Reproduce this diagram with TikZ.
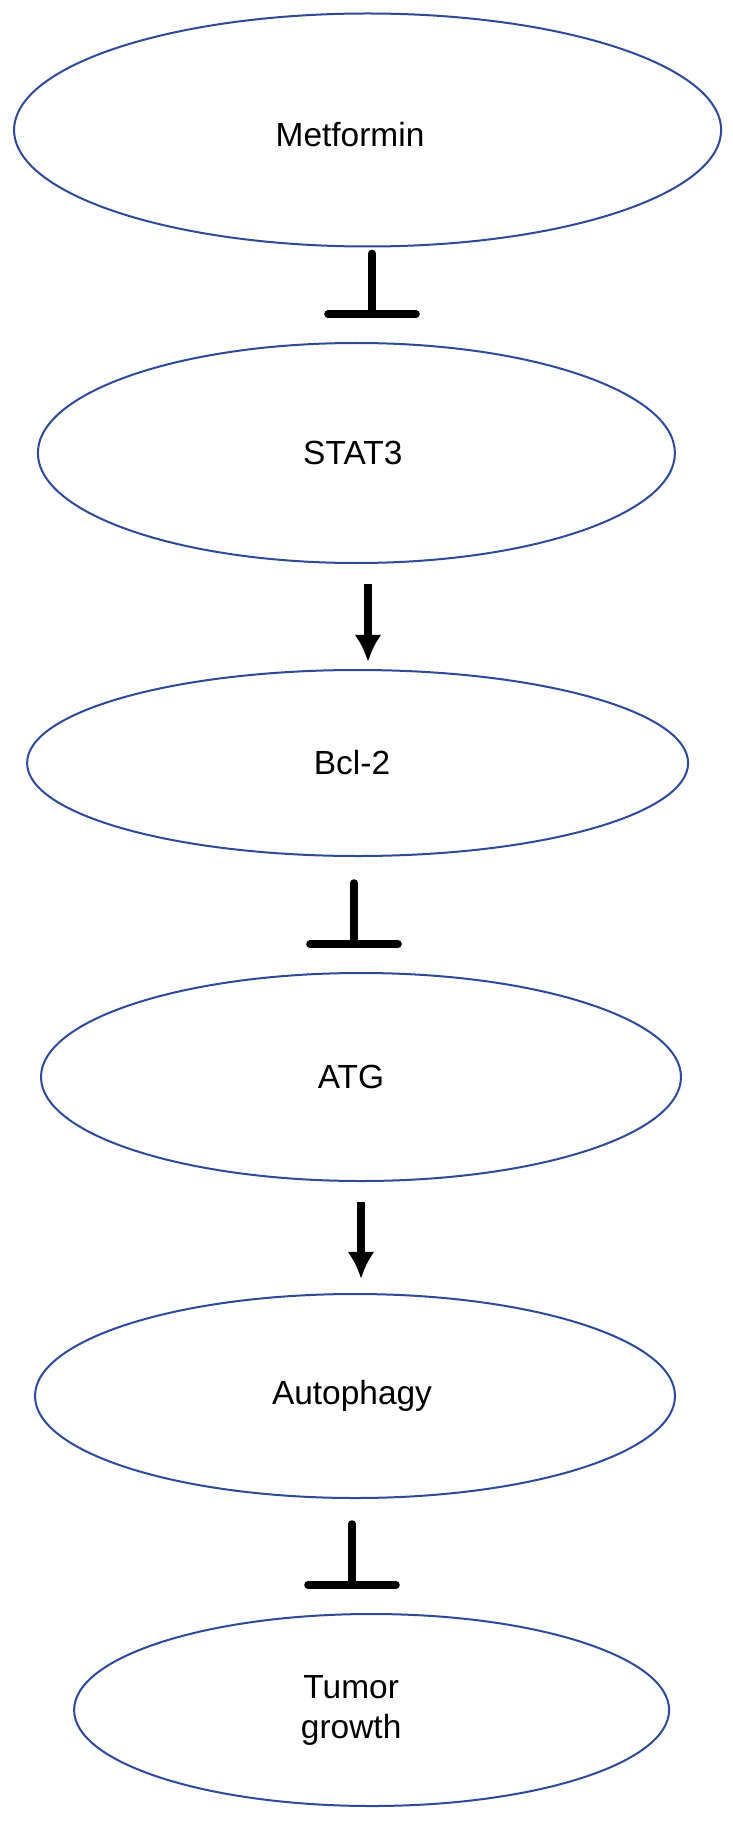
\documentclass[tikz,border=0pt]{standalone}
\usepackage{fontspec}
\setmainfont{Liberation Sans}
\usepackage{tikz}
\usetikzlibrary{shapes.geometric}
\usetikzlibrary{arrows.meta}
\definecolor{ovalblue}{RGB}{44, 74, 152}
\tikzset{>={Latex[length=6.8mm, width=6.8mm]}}
\tikzset{
    oval/.style={ellipse, draw=ovalblue, line width=.05cm, inner sep=0pt},
    txt/.style={font=\fontsize{23.8}{28.5}\selectfont, align=center, inner sep=0pt},
    act/.style={line width=.19cm, ->},
    inhib/.style={line width=.19cm, line cap=round, -{Bar[width=2.2cm, round]}},
}

\begin{document}
\begin{tikzpicture}
    \useasboundingbox(0, 0)rectangle(18.3, -45.65);
    % pathway, top to bottom
    \node[oval, minimum width=17.675cm, minimum height=5.825cm, label={[txt, xshift=-.44cm, yshift=-.12cm]center:Metformin}](met) at(9.19, -3.25){};
    \node[oval, minimum width=15.925cm, minimum height=5.5cm, label={[txt, xshift=-.09cm]center:STAT3}](stat) at(8.91, -11.325){};
    \node[oval, minimum width=16.525cm, minimum height=4.65cm, label={[txt, xshift=-.14cm]center:Bcl-2}](bcl) at(8.94, -19.075){};
    \node[oval, minimum width=16cm, minimum height=5.2cm, label={[txt, xshift=-.25cm]center:ATG}](atg) at(9.025, -26.925){};
    \node[oval, minimum width=16cm, minimum height=5.1cm, label={[txt, xshift=-.075cm]center:Autophagy}](auto) at(8.875, -34.9){};
    \node[oval, minimum width=14.875cm, minimum height=4.8cm, label={[txt, xshift=-.51cm]center:Tumor\\growth}](tum) at(9.29, -42.75){};
    % connectors
    \draw[inhib, shorten <=.15cm, shorten >=.6cm]([xshift=.11cm]met.south)--([xshift=.11cm]met.south |- stat.north);
    \draw[act, shorten <=.5cm, shorten >=.175cm]([xshift=.29cm]stat.south)--([xshift=.29cm]stat.south |- bcl.north);
    \draw[inhib, shorten <=.65cm, shorten >=.6cm]([xshift=-.09cm]bcl.south)--([xshift=-.09cm]bcl.south |- atg.north);
    \draw[act, shorten <=.5cm, shorten >=.35cm](atg.south)--(atg.south |- auto.north);
    \draw[inhib, shorten <=.625cm, shorten >=.6cm]([xshift=-.075cm]auto.south)--([xshift=-.075cm]auto.south |- tum.north);
\end{tikzpicture}
\end{document}
